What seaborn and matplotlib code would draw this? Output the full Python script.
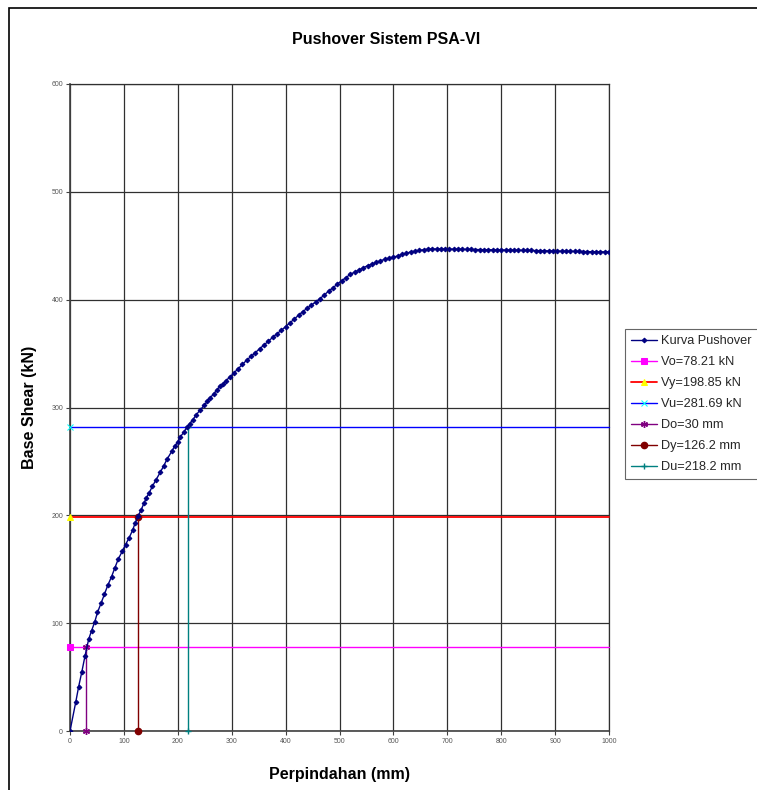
import matplotlib
matplotlib.use("Agg")
import matplotlib.pyplot as plt
import seaborn as sns
import pandas as pd
from matplotlib.patches import Rectangle

# ---- data ----
disp_mm = [0, 10.6, 16, 22, 28, 34.6, 40, 45.8, 51, 58, 64, 70, 77, 83, 89.6, 97, 103,
           109.5, 116, 121, 126, 132, 137, 141.6, 147, 153, 159.6, 167.6, 174, 180, 189,
           194, 200, 205, 212, 217, 222, 227.6, 234, 241, 249, 255, 260, 266.6, 272, 278,
           284, 289, 296, 304, 312, 320, 328, 336, 344, 352, 360, 368, 376, 384, 392, 400,
           408, 416, 424, 432, 440, 448, 456, 464, 472, 480, 488, 496, 504, 512, 520, 528,
           536, 544, 552, 560, 568, 576, 584, 592, 600, 608, 616, 624, 632, 640, 648, 656,
           664, 672, 680, 688, 696, 704, 712, 720, 728, 736, 744, 752, 760, 768, 776, 784,
           792, 800, 808, 816, 824, 832, 840, 848, 856, 864, 872, 880, 888, 896, 904, 912,
           920, 928, 936, 944, 952, 960, 968, 976, 984, 992, 1000]
shear_kn = [0, 26.6, 41, 55, 70, 85, 93, 101, 110, 119, 127, 135, 143, 151, 159.5, 166.7, 172.8,
            179, 186, 193, 199, 205, 211, 216, 221, 227, 233, 240, 246, 252, 259.5,
            264, 268, 273, 277.6, 281.7, 285, 288.5, 293, 297.5, 302, 306, 309, 312.6, 316, 319.6,
            322, 324.7, 328, 332, 336, 340, 344, 347.5, 351, 354.5, 358, 361.5, 365, 368.5, 371.5, 375,
            378.5, 382, 385.5, 389, 392, 395, 398, 401, 404.5, 408, 411, 414.5, 417.5, 420.5, 423.5, 425.5,
            427.5, 429.5, 431.5, 433, 434.5, 436, 437.5, 438.5, 439.5, 440.5, 442, 443, 444.3, 445, 445.8, 446.3,
            446.8, 447, 447, 447, 447, 446.9, 446.8, 446.8, 446.7, 446.6, 446.6, 446.5, 446.4, 446.4, 446.3, 446.2,
            446.2, 446.1, 446, 446, 445.9, 445.8, 445.8, 445.7, 445.6, 445.5, 445.5, 445.4, 445.3, 445.2, 445.1, 445,
            444.9, 444.9, 444.8, 444.7, 444.6, 444.6, 444.5, 444.4, 444.4, 444.3, 444.3]

Vo, Vy, Vu = 78.21, 198.85, 281.69
Do, Dy, Du = 30, 126.2, 218.2
x_max = 1000

labels = ["Kurva Pushover", "Vo=78.21 kN", "Vy=198.85 kN", "Vu=281.69 kN",
          "Do=30 mm", "Dy=126.2 mm", "Du=218.2 mm"]
x_ticks = list(range(0, 1001, 100))
y_ticks = list(range(0, 601, 100))

# ---- figure ----
sns.set_theme(style="white")
plt.rcParams['font.family'] = ['Liberation Sans', 'DejaVu Sans']

fig = plt.figure(figsize=(7.57, 7.90), dpi=100)
ax = fig.add_axes([70/757, 59/790, 539/757, 647/790])

# outer chart border
fig.patches.append(Rectangle((9/757, -0.05), 1.2, 1 - 8/790 + 0.05, transform=fig.transFigure,
                             fill=False, edgecolor='black', linewidth=1.2, zorder=0))

df = pd.DataFrame({"d": disp_mm, "v": shear_kn})
sns.lineplot(data=df, x="d", y="v", ax=ax, sort=False, color='#000080', linewidth=1,
             marker='D', markersize=2.4, markeredgecolor='#000080', label=labels[0], zorder=5)

def hline(v, lc, mk, mc, ms, lab, lw=1.0):
    sns.lineplot(x=[0, x_max], y=[v, v], ax=ax, color=lc, linewidth=lw, marker=mk,
                 markersize=ms, markerfacecolor=mc, markeredgecolor=mc, markevery=[0],
                 label=lab, clip_on=False, zorder=4, sort=False)

def vline(d, v, lc, mk, mc, ms, lab):
    sns.lineplot(x=[d, d], y=[0, v], ax=ax, color=lc, linewidth=1.0, marker=mk,
                 markersize=ms, markerfacecolor=mc, markeredgecolor=mc, markeredgewidth=1,
                 label=lab, clip_on=False, zorder=4, sort=False, orient='y')

hline(Vo, '#FF00FF', 's', '#FF00FF', 4, labels[1])
hline(Vy, '#FF0000', '^', '#FFFF00', 4.5, labels[2], lw=1.3)
hline(Vu, '#0000FF', 'x', '#00FFFF', 4, labels[3])
vline(Do, Vo, '#800080', (6, 2, 0), '#800080', 5, labels[4])
vline(Dy, Vy, '#800000', 'o', '#800000', 4.5, labels[5])
vline(Du, Vu, '#008080', '+', '#008080', 5, labels[6])

ax.set_xlim(0, x_max)
ax.set_ylim(0, 600)
ax.set_xticks(x_ticks)
ax.set_yticks(y_ticks)
ax.grid(True, color='#303030', linewidth=0.9)
ax.set_axisbelow(True)
for s in ['top', 'right']:
    ax.spines[s].set_color('#303030')
    ax.spines[s].set_linewidth(0.9)
for s in ['left', 'bottom']:
    ax.spines[s].set_color('#404040')
    ax.spines[s].set_linewidth(1.2)
ax.tick_params(axis='both', which='major', labelsize=5, labelcolor='#555555', color='#404040',
               length=3, width=0.8, direction='out', left=True, bottom=True, pad=2)

ax.set_xlabel("Perpindahan (mm)", fontsize=11.5, fontweight='bold', color='black')
ax.set_ylabel("Base Shear (kN)", fontsize=11.5, fontweight='bold', color='black')
ax.xaxis.set_label_coords(0.5, -0.056)
ax.yaxis.set_label_coords(-0.061, 0.5)

fig.text(386/757, 1 - 40/790, "Pushover Sistem PSA-VI", ha='center', va='center',
         fontsize=11.5, fontweight='bold', color='black')

leg = ax.legend(loc='upper left', bbox_to_anchor=((625 - 70)/539, (731 - 329)/647), frameon=True,
                fontsize=9.2, fancybox=False, edgecolor='#404040', borderaxespad=0,
                handlelength=2.0, handletextpad=0.3, labelspacing=0.70, borderpad=0.5)
leg.get_frame().set_linewidth(0.8)

fig.savefig("out.png", dpi=100)
